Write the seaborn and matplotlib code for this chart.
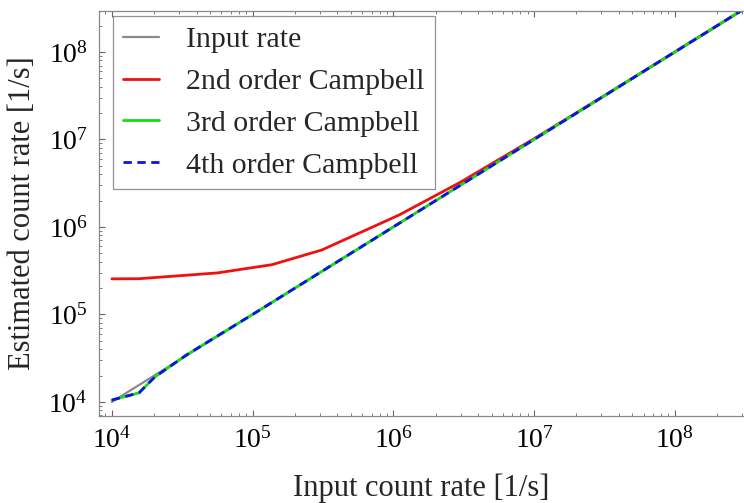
import numpy as np
import pandas as pd
import matplotlib
matplotlib.use("Agg")
import matplotlib.pyplot as plt
import seaborn as sns
from matplotlib.ticker import LogLocator, NullFormatter

# ---- data ----
input_x = [1e4, 2e4, 3.4e4, 1e5, 1e6, 1e7, 1e8, 3e8]
input_y = [1e4, 2e4, 3.4e4, 1e5, 1e6, 1e7, 1e8, 3e8]

red_x = [1e4, 1.56e4, 5.6e4, 1.37e5, 3.1e5, 1.1e6, 3e6, 1e7, 3e7, 1e8, 3e8]
red_y = [2.55e5, 2.56e5, 2.98e5, 3.7e5, 5.45e5, 1.37e6, 3.25e6, 1.02e7, 3.01e7, 1e8, 3e8]

c3_x = [1e4, 1.56e4, 2.02e4, 3.4e4, 1e5, 1e6, 1e7, 1e8, 3e8]
c3_y = [1.05e4, 1.27e4, 1.93e4, 3.45e4, 1e5, 1e6, 1e7, 1e8, 3e8]

c4_x = [1e4, 1.56e4, 2.02e4, 3.4e4, 1e5, 1e6, 1e7, 1e8, 3e8]
c4_y = [1.05e4, 1.27e4, 1.93e4, 3.45e4, 1e5, 1e6, 1e7, 1e8, 3e8]

labels = ["Input rate", "2nd order Campbell", "3rd order Campbell", "4th order Campbell"]
colors = ["#8a8a8a", "#f01010", "#10e010", "#1010e8"]

sns.set_style("white")
plt.rcParams["font.family"] = ["Liberation Serif", "DejaVu Serif"]
plt.rcParams["mathtext.fontset"] = "stix"

fig = plt.figure(figsize=(7.44, 5.03), dpi=100)
ax = fig.add_axes([99 / 744, 87 / 503, 645 / 744, 405 / 503])

series = [(input_x, input_y), (red_x, red_y), (c3_x, c3_y), (c4_x, c4_y)]
for i, ((xs, ys), lab, col) in enumerate(zip(series, labels, colors)):
    df = pd.DataFrame({"x": xs, "y": ys})
    sns.lineplot(data=df, x="x", y="y", ax=ax, color=col, label=lab,
                 linewidth=1.6 if i == 0 else 2.0, estimator=None, sort=False)
ax.lines[-1].set_dashes((3.0, 2.0))

ax.set_xscale("log")
ax.set_yscale("log")
ax.set_xlim(8.1e3, 3.1e8)
ax.set_ylim(6.9e3, 2.94e8)

ax.xaxis.set_major_locator(LogLocator(base=10, numticks=10))
ax.yaxis.set_major_locator(LogLocator(base=10, numticks=10))
ax.xaxis.set_minor_locator(LogLocator(base=10, subs=np.arange(2, 10), numticks=20))
ax.yaxis.set_minor_locator(LogLocator(base=10, subs=np.arange(2, 10), numticks=20))
ax.xaxis.set_minor_formatter(NullFormatter())
ax.yaxis.set_minor_formatter(NullFormatter())

for s in ["left", "bottom", "top"]:
    ax.spines[s].set_color("#888888")
    ax.spines[s].set_linewidth(0.9)
ax.spines["right"].set_visible(False)

ax.tick_params(axis="both", which="both", direction="in", colors="#666666",
               labelcolor="black", top=True, right=False, bottom=True, left=True)
ax.tick_params(which="major", length=4, width=0.8, labelsize=20, pad=8)
ax.tick_params(which="minor", length=2.5, width=0.6)

ax.set_xlabel("Input count rate [1/s]", fontsize=22, labelpad=14)
ax.set_ylabel("Estimated count rate [1/s]", fontsize=22, labelpad=8)

leg = ax.legend(loc="upper left", fontsize=21.5, frameon=True, fancybox=False,
                edgecolor="#777777", handlelength=1.2, handletextpad=0.9,
                labelspacing=0.5, borderpad=0.35, borderaxespad=0,
                bbox_to_anchor=(0.0217, 0.988))
leg.get_frame().set_linewidth(0.9)

fig.savefig("out.png", dpi=100)
